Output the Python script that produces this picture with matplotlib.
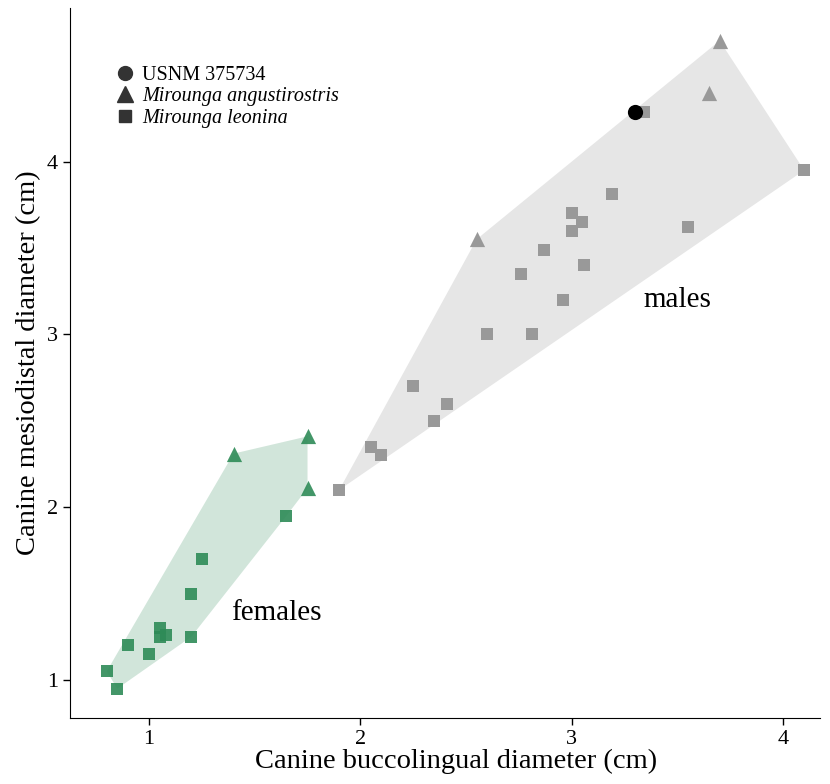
import numpy as np
import matplotlib
matplotlib.use("Agg")
from matplotlib import pyplot as plt
from matplotlib.lines import Line2D

plt.rcParams['font.family'] = ['Liberation Serif', 'DejaVu Serif']

# females (green)
fem_sq_x = [0.80, 0.85, 0.90, 1.00, 1.05, 1.05, 1.08, 1.20, 1.20, 1.25, 1.65]
fem_sq_y = [1.05, 0.95, 1.20, 1.15, 1.30, 1.25, 1.26, 1.25, 1.50, 1.70, 1.95]
fem_tri_x = [1.40, 1.75, 1.75]
fem_tri_y = [2.31, 2.41, 2.11]

# males (grey)
male_sq_x = [3.34, 4.10, 3.19, 3.00, 3.05, 3.00, 3.55, 2.87, 2.76, 3.06, 2.96,
             2.60, 2.81, 2.25, 2.41, 2.35, 2.05, 2.10, 1.90]
male_sq_y = [4.29, 3.95, 3.81, 3.70, 3.65, 3.60, 3.62, 3.49, 3.35, 3.40, 3.20,
             3.00, 3.00, 2.70, 2.60, 2.50, 2.35, 2.30, 2.10]
male_tri_x = [2.55, 3.70, 3.65]
male_tri_y = [3.55, 4.70, 4.40]

# specimen
usnm_x = [3.30]
usnm_y = [4.29]

green = '#2e8b57'
grey = '#999999'


def hull(xs, ys):
    pts = sorted(set(zip(xs, ys)))
    def cross(o, a, b):
        return (a[0]-o[0])*(b[1]-o[1]) - (a[1]-o[1])*(b[0]-o[0])
    lower = []
    for p in pts:
        while len(lower) >= 2 and cross(lower[-2], lower[-1], p) <= 0:
            lower.pop()
        lower.append(p)
    upper = []
    for p in reversed(pts):
        while len(upper) >= 2 and cross(upper[-2], upper[-1], p) <= 0:
            upper.pop()
        upper.append(p)
    return np.array(lower[:-1] + upper[:-1])


fig = plt.figure(figsize=(8.3, 7.84), dpi=100)
ax = fig.add_axes([0.0843, 0.0842, 0.9037, 0.9058])

fh = hull(fem_sq_x + fem_tri_x, fem_sq_y + fem_tri_y)
ax.fill(fh[:, 0], fh[:, 1], color=green, alpha=0.22, lw=0, zorder=1)
mh = hull(male_sq_x + male_tri_x, male_sq_y + male_tri_y)
ax.fill(mh[:, 0], mh[:, 1], color='#e6e6e6', lw=0, zorder=1)

ax.scatter(fem_sq_x, fem_sq_y, marker='s', s=85, color=green, alpha=0.9, lw=0, zorder=3)
ax.scatter(fem_tri_x, fem_tri_y, marker='^', s=120, color=green, alpha=0.9, lw=0, zorder=3)
ax.scatter(male_sq_x, male_sq_y, marker='s', s=85, color=grey, lw=0, zorder=3)
ax.scatter(male_tri_x, male_tri_y, marker='^', s=120, color=grey, lw=0, zorder=3)
ax.scatter(usnm_x, usnm_y, marker='o', s=120, color='black', lw=0, zorder=4)

ax.text(3.50, 3.20, 'males', fontsize=21, ha='center', va='center')
ax.text(1.60, 1.39, 'females', fontsize=21, ha='center', va='center')

ax.set_xlim(0.626, 4.175)
ax.set_ylim(0.78, 4.89)
ax.set_xticks([1, 2, 3, 4])
ax.set_yticks([1, 2, 3, 4])
ax.tick_params(labelsize=16, length=5, width=1, direction='out')
ax.set_xlabel('Canine buccolingual diameter (cm)', fontsize=20.5, labelpad=0)
ax.xaxis.set_label_coords(0.515, -0.043)
ax.set_ylabel('Canine mesiodistal diameter (cm)', fontsize=20.5, labelpad=4)
for s in ['top', 'right']:
    ax.spines[s].set_visible(False)

handles = [
    Line2D([], [], marker='o', ls='', color='#333333', markersize=10),
    Line2D([], [], marker='^', ls='', color='#333333', markersize=11),
    Line2D([], [], marker='s', ls='', color='#333333', markersize=9),
]
labels = ['USNM 375734', 'Mirounga angustirostris', 'Mirounga leonina']
leg = ax.legend(handles, labels, loc='upper left', bbox_to_anchor=(0.029, 0.944),
                frameon=False, fontsize=14.5, handletextpad=0.1, labelspacing=0.12,
                handlelength=1.5)
for t in leg.get_texts()[1:]:
    t.set_fontstyle('italic')

fig.savefig('out.png', dpi=100)
